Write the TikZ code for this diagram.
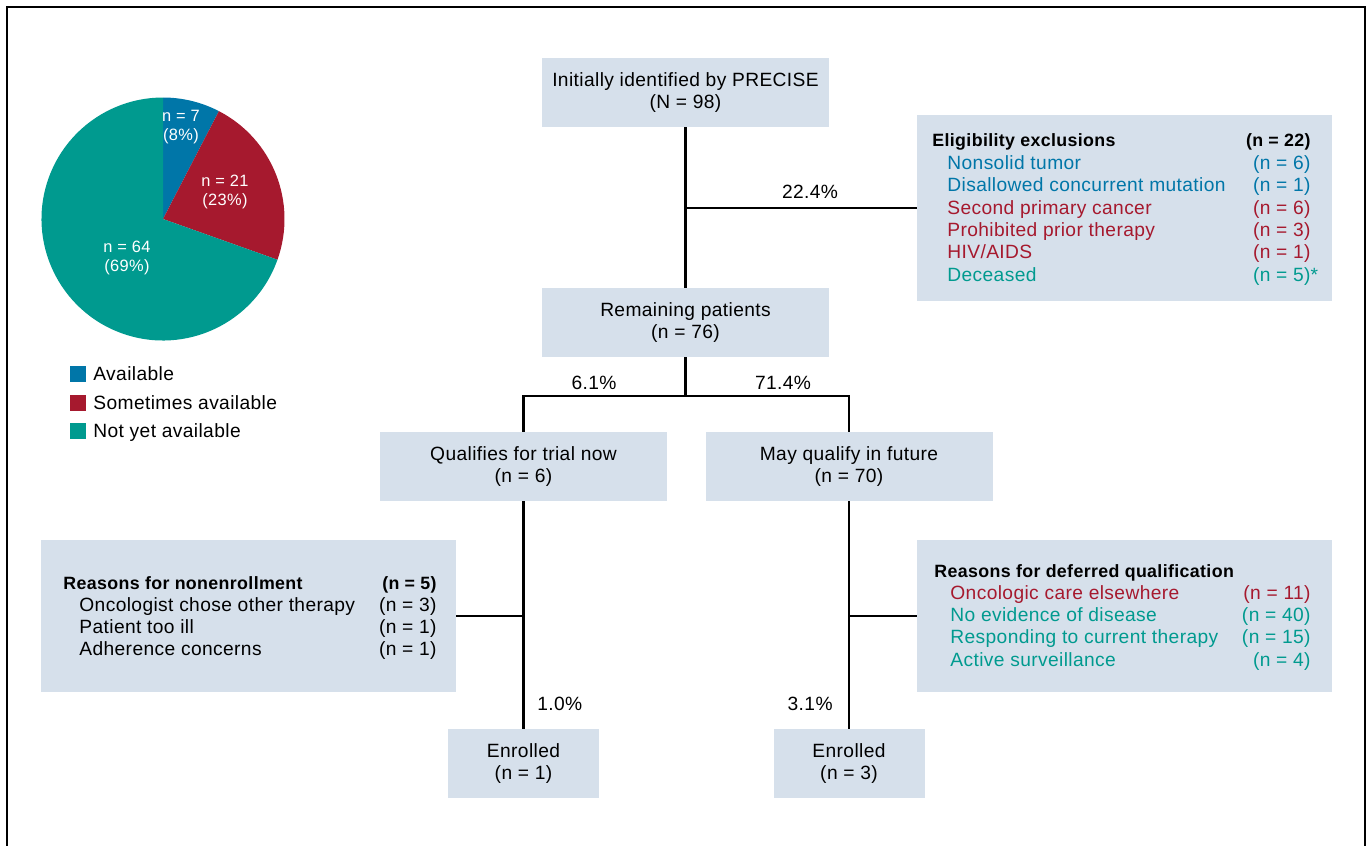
\documentclass[tikz,border=0pt]{standalone}
\usepackage{fontspec}
\setmainfont{Liberation Sans}[LetterSpace=2]
\usetikzlibrary{positioning}

\definecolor{boxfill}{RGB}{214,224,235}
\definecolor{availcol}{RGB}{0,118,168}
\definecolor{sometimescol}{RGB}{166,25,46}
\definecolor{notyetcol}{RGB}{0,154,143}

\tikzset{
  every node/.style={font=\fontsize{9.6}{11.2}\selectfont},
  stage/.style={fill=boxfill, minimum width=143.5pt, minimum height=34.5pt, align=center, inner sep=0pt},
  endstage/.style={stage, minimum width=75.5pt},
  listbox/.style={fill=boxfill, minimum width=207.5pt, inner sep=0pt},
  rowleft/.style={anchor=base west, inner sep=0pt},
  rowright/.style={anchor=base east, inner sep=0pt},
  rowtitle/.style={font=\fontsize{8.9}{11.2}\selectfont\bfseries},
  pct/.style={inner sep=0pt},
  pielabel/.style={text=white, align=center, inner sep=0pt, font=\fontsize{8.2}{9.5}\selectfont},
  link/.style={line width=1.25pt}
}

\begin{document}
\begin{tikzpicture}[x=0.5pt, y=-0.5pt]
\useasboundingbox (0,0) rectangle (1372,846);
\draw[line width=0.7pt] (7,846) -- (7,7) -- (1365,7) -- (1365,846);

% pie chart
\begin{scope}[shift={(163,219)}, x=0.5pt, y=0.5pt]
\fill[availcol] (0,0) -- (90:121.5) arc[start angle=90, end angle=62.6, radius=121.5] -- cycle;
\fill[sometimescol] (0,0) -- (62.6:121.5) arc[start angle=62.6, end angle=-19.6, radius=121.5] -- cycle;
\fill[notyetcol] (0,0) -- (-19.6:121.5) arc[start angle=-19.6, end angle=-270, radius=121.5] -- cycle;
\end{scope}
\node[pielabel] (slice_avail) at (181,127) {n = 7\\(8\%)};
\node[pielabel] (slice_sometimes) at (225,192) {n = 21\\(23\%)};
\node[pielabel] (slice_notyet) at (127,258) {n = 64\\(69\%)};

% legend
\node[fill=availcol, minimum width=8pt, minimum height=8pt, inner sep=0pt] (key_avail) at (78,374) {};
\node[fill=sometimescol, minimum width=8pt, minimum height=8pt, inner sep=0pt] (key_sometimes) at (78,403) {};
\node[fill=notyetcol, minimum width=8pt, minimum height=8pt, inner sep=0pt] (key_notyet) at (78,431) {};
\node[rowleft] (lab_avail) at (93,380) {Available};
\node[rowleft] (lab_sometimes) at (93,409) {Sometimes available};
\node[rowleft] (lab_notyet) at (93,437) {Not yet available};

% flow boxes
\node[stage] (initial) at (685.5,92.5) {Initially identified by PRECISE\\(N = 98)};
\node[stage] (remaining) at (685.5,322.5) {Remaining patients\\(n = 76)};
\node[stage] (qualifies) at (523.5,466.5) {Qualifies for trial now\\(n = 6)};
\node[stage] (future) at (849,466.5) {May qualify in future\\(n = 70)};
\node[endstage] (enrolled_now) at (523.5,763.5) {Enrolled\\(n = 1)};
\node[endstage] (enrolled_future) at (849,763.5) {Enrolled\\(n = 3)};

\node[listbox, minimum height=93pt] (exclusions) at (1124.5,208) {};
\node[listbox, minimum height=76pt] (nonenroll) at (248.5,616) {};
\node[listbox, minimum height=76pt] (deferred) at (1124.5,616) {};

% eligibility exclusions
\node[rowleft, rowtitle] (ex_title) at (932,146) {Eligibility exclusions};
\node[rowright, rowtitle] (ex_title_n) at (1311,146) {(n = 22)};
\node[rowleft, text=availcol] (ex1) at (947,169) {Nonsolid tumor};
\node[rowright, text=availcol] (ex1_n) at (1311,169) {(n = 6)};
\node[rowleft, text=availcol] (ex2) at (947,191) {Disallowed concurrent mutation};
\node[rowright, text=availcol] (ex2_n) at (1311,191) {(n = 1)};
\node[rowleft, text=sometimescol] (ex3) at (947,214) {Second primary cancer};
\node[rowright, text=sometimescol] (ex3_n) at (1311,214) {(n = 6)};
\node[rowleft, text=sometimescol] (ex4) at (947,236) {Prohibited prior therapy};
\node[rowright, text=sometimescol] (ex4_n) at (1311,236) {(n = 3)};
\node[rowleft, text=sometimescol] (ex5) at (947,258) {HIV/AIDS};
\node[rowright, text=sometimescol] (ex5_n) at (1311,258) {(n = 1)};
\node[rowleft, text=notyetcol] (ex6) at (947,281) {Deceased};
\node[rowright, text=notyetcol] (ex6_n) at (1311,281) {(n = 5)\rlap{*}};

% reasons for nonenrollment
\node[rowleft, rowtitle] (ne_title) at (63,589) {Reasons for nonenrollment};
\node[rowright, rowtitle] (ne_title_n) at (437,589) {(n = 5)};
\node[rowleft] (ne1) at (79,611) {Oncologist chose other therapy};
\node[rowright] (ne1_n) at (437,611) {(n = 3)};
\node[rowleft] (ne2) at (79,633) {Patient too ill};
\node[rowright] (ne2_n) at (437,633) {(n = 1)};
\node[rowleft] (ne3) at (79,655) {Adherence concerns};
\node[rowright] (ne3_n) at (437,655) {(n = 1)};

% reasons for deferred qualification
\node[rowleft, rowtitle] (df_title) at (934,577) {Reasons for deferred qualification};
\node[rowleft, text=sometimescol] (df1) at (950,599) {Oncologic care elsewhere};
\node[rowright, text=sometimescol] (df1_n) at (1311,599) {(n = 11)};
\node[rowleft, text=notyetcol] (df2) at (950,621) {No evidence of disease};
\node[rowright, text=notyetcol] (df2_n) at (1311,621) {(n = 40)};
\node[rowleft, text=notyetcol] (df3) at (950,643) {Responding to current therapy};
\node[rowright, text=notyetcol] (df3_n) at (1311,643) {(n = 15)};
\node[rowleft, text=notyetcol] (df4) at (950,666) {Active surveillance};
\node[rowright, text=notyetcol] (df4_n) at (1311,666) {(n = 4)};

% connectors
\coordinate (split) at (685.5,396);
\draw[link] (initial) -- (remaining);
\draw[link] (initial.south |- exclusions.west) -- (exclusions.west);
\draw[link] (remaining) -- (split);
\draw[link] (qualifies) |- (split) -| (future);
\draw[link] (qualifies) -- (enrolled_now);
\draw[link] (future) -- (enrolled_future);
\draw[link] (nonenroll.east) -- (qualifies.south |- nonenroll.east);
\draw[link] (future.south |- deferred.west) -- (deferred.west);

% percentages
\node[pct, anchor=base] (p_excl) at (810,198) {22.4\%};
\node[pct, anchor=base] (p_now) at (594,389) {6.1\%};
\node[pct, anchor=base] (p_future) at (783,389) {71.4\%};
\node[pct, anchor=base west] (p_enr_now) at (537,710) {1.0\%};
\node[pct, anchor=base east] (p_enr_future) at (833,710) {3.1\%};
\end{tikzpicture}
\end{document}
